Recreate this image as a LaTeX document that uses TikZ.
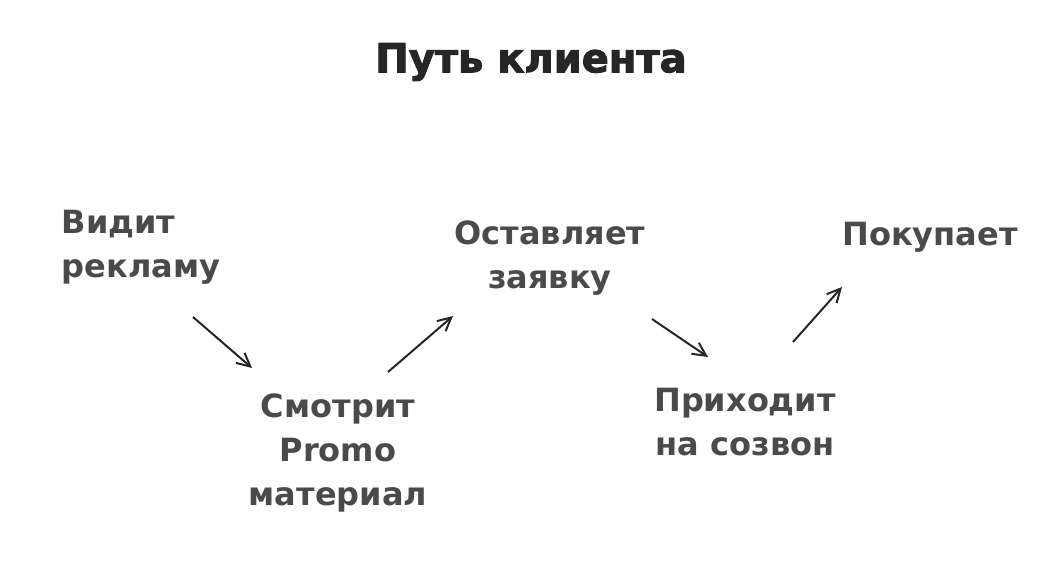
\documentclass[tikz,border=0pt]{standalone}
\usepackage{fontspec}
\setmainfont{DejaVu Sans}
\newfontfamily\titlefont{DejaVu Sans Bold}[FakeBold=2.5]
\usetikzlibrary{arrows.meta}
\definecolor{ink}{HTML}{4A4A4A}
\tikzset{step text/.style={text=ink,font=\fontsize{24}{33}\selectfont\bfseries,align=center},
         arr/.style={-{Straight Barb[length=10pt,width=10pt]},line width=1.5pt,draw=black!85}}
\begin{document}
\begin{tikzpicture}[x=0.75pt,y=-0.75pt]
\useasboundingbox[fill=white] (0,0) rectangle (1063,578);
\node[font=\titlefont\fontsize{30}{30}\selectfont,text=black!85] (title) at (531,62) {Путь клиента};
% steps
\node[step text,align=left] (ad) at (141,247) {Видит\\рекламу};
\node[step text] (promo) at (338,453) {Смотрит\\Promo\\материал};
\node[step text] (form) at (550,258) {Оставляет\\заявку};
\node[step text] (call) at (745,422) {Приходит\\на созвон};
\node[step text] (buy) at (930,237) {Покупает};
% arrow ends
\coordinate (a1) at (193,317); \coordinate (a2) at (252,368);
\coordinate (b1) at (388,372); \coordinate (b2) at (453,316);
\coordinate (c1) at (652,319); \coordinate (c2) at (708,357);
\coordinate (d1) at (793,342); \coordinate (d2) at (842,287);
\draw[arr] (a1) -- (a2);
\draw[arr] (b1) -- (b2);
\draw[arr] (c1) -- (c2);
\draw[arr] (d1) -- (d2);
\end{tikzpicture}
\end{document}
